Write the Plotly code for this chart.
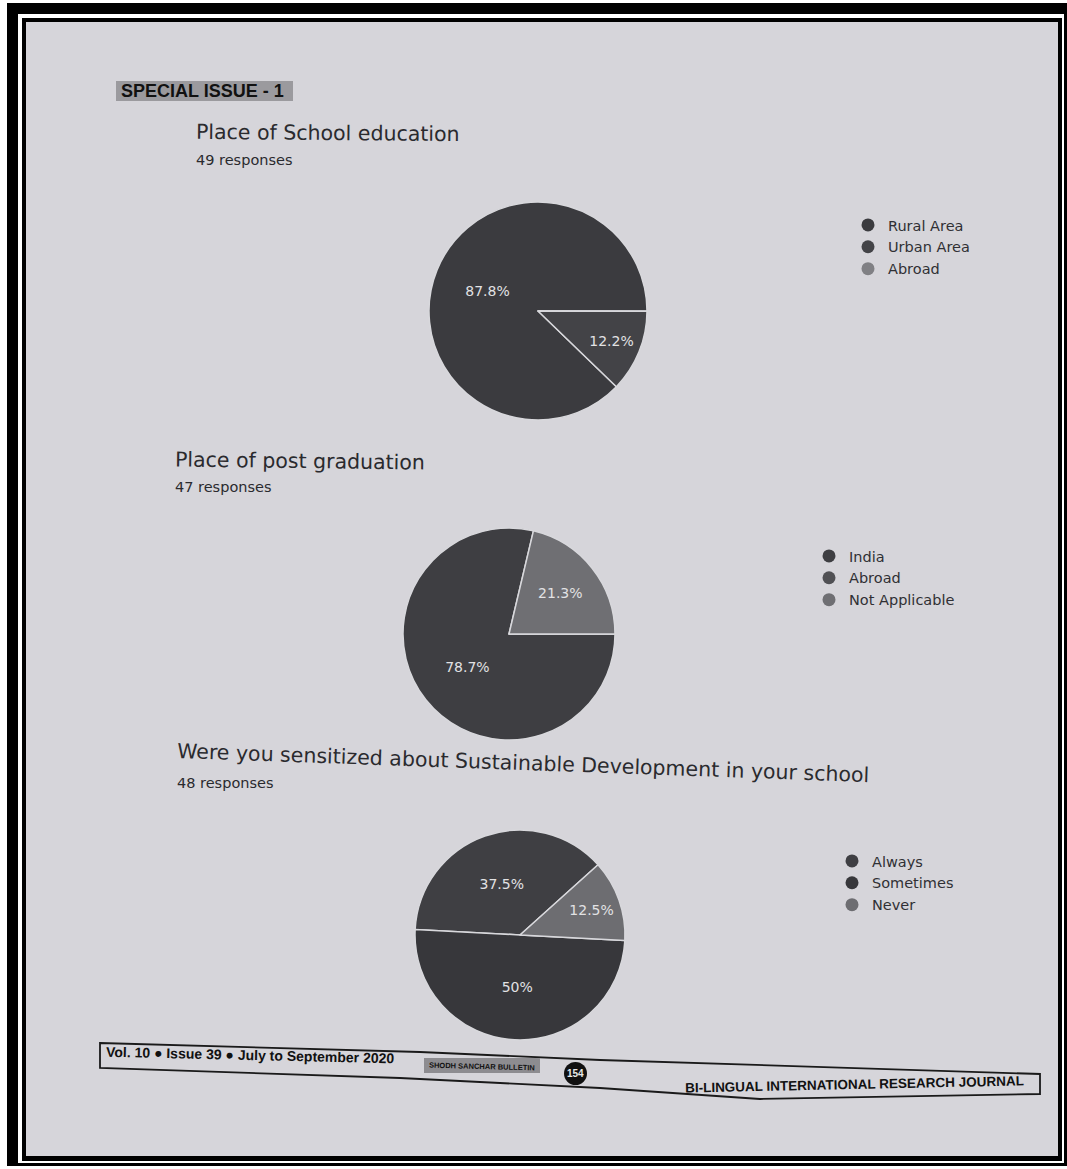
import plotly.graph_objects as go

W, H = 1067, 1169

# ---------------- data ----------------
q1_title = "Place of School education"
q1_responses = "49 responses"
q1_labels = ["Rural Area", "Urban Area", "Abroad"]
q1_values = [87.8, 12.2, 0.0]

q2_title = "Place of post graduation"
q2_responses = "47 responses"
q2_labels = ["India", "Abroad", "Not Applicable"]
q2_values = [78.7, 0.0, 21.3]

q3_title = "Were you sensitized about Sustainable Development in your school"
q3_responses = "48 responses"
q3_labels = ["Always", "Sometimes", "Never"]
q3_values = [37.5, 50.0, 12.5]

header_text = "SPECIAL ISSUE - 1"
footer_left = "Vol. 10 \u25cf Issue 39 \u25cf July to September 2020"
footer_mid = "SHODH SANCHAR BULLETIN"
footer_page = "154"
footer_right = "BI-LINGUAL INTERNATIONAL RESEARCH JOURNAL"

# ---------------- styles ----------------
q1_colors = ["#3b3b3f", "#434347", "#808084"]
q2_colors = ["#3e3e42", "#505054", "#6f6f73"]
q3_colors = ["#3f3f43", "#37373b", "#6d6d71"]

FONT = "DejaVu Sans"


def X(px):
    return px / W


def Y(py):
    return 1 - py / H


def dom(cx, cy, r):
    return dict(x=[X(cx - r), X(cx + r)], y=[Y(cy + r), Y(cy - r)])


fig = go.Figure()

pies = [
    (q1_labels, q1_values, q1_colors, dom(538, 311, 109), 134, "legend"),
    (q2_labels, q2_values, q2_colors, dom(509, 634, 106), 90, "legend2"),
    (q3_labels, q3_values, q3_colors, dom(520, 935, 105), 273, "legend3"),
]

for labels, values, colors, d, rot, leg in pies:
    fig.add_trace(go.Pie(
        labels=labels, values=values, sort=False, direction="counterclockwise",
        rotation=rot, domain=d, showlegend=False,
        marker=dict(colors=colors, line=dict(color="#d8d8dc", width=1.5)),
        textinfo="percent", textposition="inside", insidetextorientation="horizontal",
        textfont=dict(family=FONT, size=14, color="#e2e2e4"),
        hoverinfo="label+percent",
    ))
    for lab, col in zip(labels, colors):
        fig.add_trace(go.Scatter(
            x=[None], y=[None], mode="markers", name=lab, legend=leg,
            marker=dict(symbol="circle", size=13, color=col),
        ))

leg_common = dict(
    xanchor="left", yanchor="top", bgcolor="rgba(0,0,0,0)",
    font=dict(family=FONT, size=14.5, color="#303034"),
    itemsizing="trace", tracegroupgap=0, itemwidth=30,
)

shapes = []
# frame: outer black, white line, inner black
shapes.append(dict(type="rect", xref="paper", yref="paper", x0=X(7), x1=X(1067), y0=Y(1166), y1=Y(3),
                   fillcolor="#000000", line=dict(width=0), layer="below"))
shapes.append(dict(type="rect", xref="paper", yref="paper", x0=X(18), x1=X(1064), y0=Y(1163), y1=Y(14),
                   fillcolor="#ffffff", line=dict(width=0), layer="below"))
shapes.append(dict(type="rect", xref="paper", yref="paper", x0=X(22), x1=X(1062), y0=Y(1161), y1=Y(18),
                   fillcolor="#000000", line=dict(width=0), layer="below"))
shapes.append(dict(type="rect", xref="paper", yref="paper", x0=X(26), x1=X(1058), y0=Y(1156), y1=Y(22),
                   fillcolor="#d6d5da", line=dict(width=0), layer="below"))
# header box
shapes.append(dict(type="rect", xref="paper", yref="paper", x0=X(116), x1=X(293), y0=Y(101), y1=Y(81),
                   fillcolor="#9b9a9e", line=dict(width=0), layer="below"))


def path(pts):
    return "M " + " L ".join(f"{X(a):.5f},{Y(b):.5f}" for a, b in pts) + " Z"


footer_pts = [(100, 1043), (420, 1052), (600, 1060), (1040, 1074), (1040, 1094),
              (760, 1099), (600, 1088), (400, 1078), (100, 1068)]
shapes.append(dict(type="path", xref="paper", yref="paper", path=path(footer_pts),
                   fillcolor="rgba(0,0,0,0)", line=dict(color="#1a1a1a", width=1.8), layer="below"))
shapes.append(dict(type="rect", xref="paper", yref="paper", x0=X(424), x1=X(540), y0=Y(1073), y1=Y(1058),
                   fillcolor="#8d8c90", line=dict(width=0), layer="below"))
shapes.append(dict(type="circle", xref="paper", yref="paper", x0=X(564), x1=X(587), y0=Y(1085), y1=Y(1062),
                   fillcolor="#111111", line=dict(width=0), layer="below"))

ann = []


def txt(s, x, y, size, color="#2a2a2e", family=FONT, anchor="left", angle=0):
    ann.append(dict(text=s, x=X(x), y=Y(y), xref="paper", yref="paper", showarrow=False,
                    xanchor=anchor, yanchor="middle", textangle=angle,
                    font=dict(family=family, size=size, color=color)))


txt("<b>" + header_text + "</b>", 119, 91, 18, color="#111111", family="Liberation Sans")
txt(q1_title, 194, 133, 20.5, angle=0.5)
txt(q1_responses, 194, 160, 14.5)
txt(q2_title, 173, 461, 20.5, angle=0.7)
txt(q2_responses, 173, 487, 14.5)
txt(q3_title, 175, 763, 20.5, angle=2.0)
txt(q3_responses, 175, 783, 14.5)
txt("<b>" + footer_left + "</b>", 104, 1055, 14, color="#111111", family="Liberation Sans", angle=1.3)
txt("<b>" + footer_mid + "</b>", 482, 1066, 7.5, color="#111111", family="Liberation Sans", anchor="center", angle=1.5)
txt("<b>" + footer_page + "</b>", 575.5, 1073.5, 10, color="#e8e8e8", family="Liberation Sans", anchor="center")
txt("<b>" + footer_right + "</b>", 854, 1084, 13.5, color="#111111", family="Liberation Sans", anchor="center", angle=-1.2)

fig.update_layout(
    width=W, height=H, margin=dict(l=0, r=0, t=0, b=0),
    paper_bgcolor="#ffffff", plot_bgcolor="rgba(0,0,0,0)",
    xaxis=dict(visible=False), yaxis=dict(visible=False),
    shapes=shapes, annotations=ann,
    legend=dict(x=X(848), y=Y(209), **leg_common),
    legend2=dict(x=X(809), y=Y(540), **leg_common),
    legend3=dict(x=X(832), y=Y(845), **leg_common),
)

fig.write_html("out.html", config={"displayModeBar": False},
               post_script="document.body.style.margin='0';document.body.style.overflow='hidden';")
